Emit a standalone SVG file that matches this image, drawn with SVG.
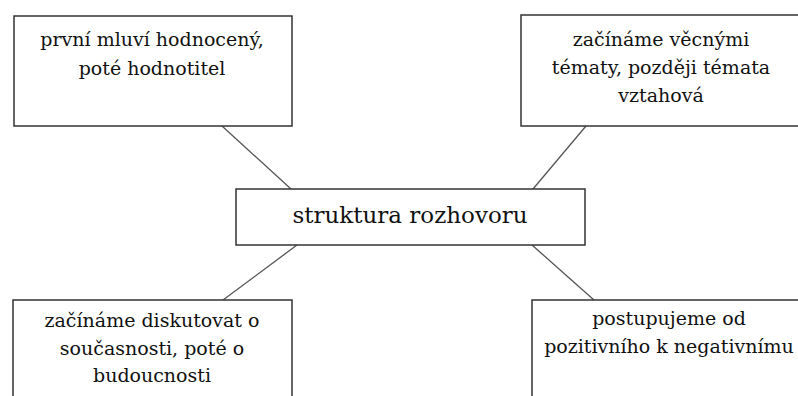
<svg xmlns="http://www.w3.org/2000/svg" width="798" height="396" viewBox="0 0 798 396">
<style>
.box{fill:#fff;stroke:#333;stroke-width:1.5}
.t{font-family:'DejaVu Serif','Liberation Serif',serif;font-size:19px;fill:#111;text-anchor:middle}
.c{font-family:'DejaVu Serif','Liberation Serif',serif;font-size:23px;fill:#111;text-anchor:middle}
.ln{stroke:#555;stroke-width:1.3;fill:none}
</style>
<rect width="798" height="396" fill="#fff"/>
<g id="connectors">
<line class="ln" x1="222" y1="126" x2="291" y2="189"/>
<line class="ln" x1="586" y1="126" x2="533" y2="189"/>
<line class="ln" x1="297" y1="245" x2="223" y2="300"/>
<line class="ln" x1="532" y1="245" x2="594" y2="300"/>
</g>
<g id="center">
<rect class="box" x="236" y="189" width="349" height="56"/>
<text class="c" x="410" y="223">struktura rozhovoru</text>
</g>
<g id="topleft">
<rect class="box" x="14" y="16" width="278" height="110"/>
<text class="t" x="152" y="46">první mluví hodnocený,</text>
<text class="t" x="152" y="75">poté hodnotitel</text>
</g>
<g id="topright">
<rect class="box" x="521" y="15" width="282" height="111"/>
<text class="t" x="661" y="46">začínáme věcnými</text>
<text class="t" x="661" y="74">tématy, později témata</text>
<text class="t" x="661" y="102">vztahová</text>
</g>
<g id="bottomleft">
<rect class="box" x="13" y="300" width="279" height="110"/>
<text class="t" x="152" y="327">začínáme diskutovat o</text>
<text class="t" x="152" y="355">současnosti, poté o</text>
<text class="t" x="152" y="382">budoucnosti</text>
</g>
<g id="bottomright">
<rect class="box" x="532" y="300" width="280" height="110"/>
<text class="t" x="669" y="325">postupujeme od</text>
<text class="t" x="669" y="353">pozitivního k negativnímu</text>
</g>
</svg>
